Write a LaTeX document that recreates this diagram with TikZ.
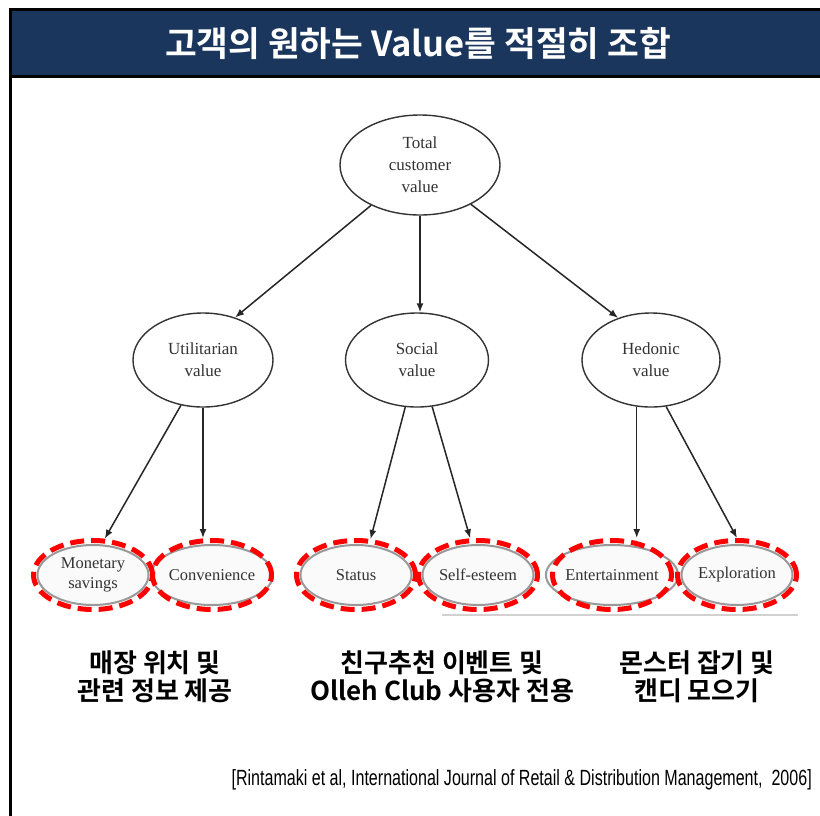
\documentclass[tikz,border=0pt]{standalone}
\usepackage{fontspec}
\setmainfont{Liberation Serif}
\newfontfamily\krfont{Noto Sans CJK KR}[UprightFont=* Bold]
\newfontfamily\citefont{Liberation Sans}
\usetikzlibrary{shapes.geometric,arrows.meta}
\definecolor{navy}{RGB}{26,54,93}
\begin{document}
\begin{tikzpicture}[x=1pt,y=-1pt,
  mid/.style={ellipse, draw=black!80, line width=1.4pt, minimum width=140pt, minimum height=94pt,
    align=center, font=\fontsize{17}{22}\selectfont, text=black!80, inner sep=0pt},
  leaf/.style={ellipse, draw=black!40, line width=2pt, fill=black!2, minimum width=111pt, minimum height=60pt,
    align=center, font=\fontsize{16.5}{20}\selectfont, text=black!80, inner sep=0pt},
  ring/.style={ellipse, draw=red, dash pattern=on 14pt off 7pt, line width=5pt, minimum width=119pt, minimum height=69pt, inner sep=0pt},
  link/.style={-{Latex[length=9pt,width=7pt]}, line width=1.5pt, draw=black!85},
  kor/.style={font=\krfont\fontsize{26}{28}\selectfont, align=center, text=black}]
\useasboundingbox (0,0) rectangle (820,815);
\fill[white] (0,0) rectangle (820,815);
% frame and title bar
\filldraw[fill=navy, draw=black, line width=3pt] (10,9) rectangle (824,76);
\draw[black, line width=3pt] (10,9) -- (10,817);
\node[font=\krfont\fontsize{34.5}{36}\selectfont, text=white] (title) at (418,43) {고객의 원하는 Value를 적절히 조합};
% faint image edge
\draw[black!18, line width=1.5pt] (442,615) -- (798,615);
% main nodes
\node[mid, minimum width=160pt, minimum height=100pt] (T) at (420,165) {Total\\customer\\value};
\node[mid] (U) at (203,360) {Utilitarian\\value};
\node[mid, minimum width=143pt] (S) at (417,360) {Social\\value};
\node[mid, minimum width=138pt] (H) at (651,360) {Hedonic\\value};
% leaves
\node[leaf] (M) at (93,575) {Monetary\\savings};
\node[leaf] (C) at (212,575) {Convenience};
\node[leaf] (St) at (356,575) {Status};
\node[leaf] (Se) at (478,575) {Self-esteem};
\node[leaf] (E) at (612,575) {Entertainment};
\node[leaf] (X) at (737,575) {Exploration};
\node[ring] (Mr) at (M) {};
\node[ring] (Cr) at (C) {};
\node[ring] (Str) at (St) {};
\node[ring] (Ser) at (Se) {};
\node[ring] (Er) at (E) {};
\node[ring] (Xr) at (X) {};
% connectors
\draw[link] (T) -- (U.53);
\draw[link] (T.south) -- (T.south |- S.north);
\draw[link] (T) -- (H.128);
\draw[link] (U.-116) -- (Mr.72);
\draw[link] (U.south) -- (U.south |- Cr.north);
\draw[link] (S.-104) -- (Str.68);
\draw[link] (S.-72) -- (Ser.102);
\draw[link] (H.-107) -- (H.-107 |- Er.north);
\draw[link] (H.-72) -- (Xr.north);
% Korean labels
\node[kor] (k1) at (155,677) {매장 위치 및\\관련 정보 제공};
\node[kor] (k2) at (442,677) {친구추천 이벤트 및\\Olleh Club 사용자 전용};
\node[kor] (k3) at (697,677) {몬스터 잡기 및\\캔디 모으기};
% citation
\node[anchor=east, inner sep=0pt, font=\citefont\fontsize{22}{24}\selectfont] (cite) at (812,780)
  {\scalebox{0.73}[1]{[Rintamaki et al, International Journal of Retail \& Distribution Management,~~2006]}};
\end{tikzpicture}
\end{document}
